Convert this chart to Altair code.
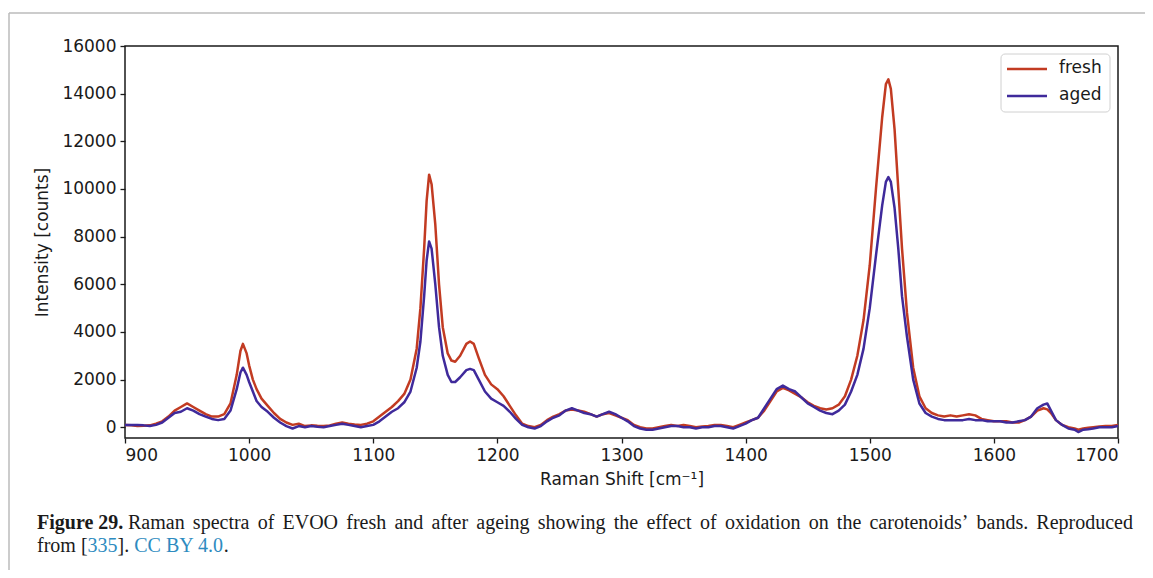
import altair as alt
import pandas as pd

# Raman shift (cm^-1)
shift = [900, 905, 910, 915, 920, 925, 930, 935, 940, 945, 950, 955, 960, 965, 970, 975, 980, 985, 990, 993,
         995, 998, 1000, 1003, 1006, 1010, 1015, 1020, 1025, 1030, 1035, 1040, 1045, 1050, 1055, 1060, 1065,
         1070, 1075, 1080, 1085, 1090, 1095, 1100, 1105, 1110, 1115, 1120, 1125, 1130, 1135, 1138, 1141, 1143,
         1145, 1147, 1150, 1153, 1156, 1160, 1163, 1166, 1170, 1175, 1178, 1181, 1185, 1190, 1195, 1200, 1205,
         1210, 1215, 1220, 1225, 1230, 1235, 1240, 1245, 1250, 1255, 1260, 1265, 1270, 1275, 1280, 1285, 1290,
         1295, 1300, 1305, 1310, 1315, 1320, 1325, 1330, 1335, 1340, 1345, 1350, 1355, 1360, 1365, 1370, 1375,
         1380, 1385, 1390, 1395, 1400, 1405, 1410, 1415, 1420, 1425, 1430, 1435, 1440, 1445, 1450, 1455, 1460,
         1465, 1470, 1475, 1480, 1485, 1490, 1495, 1500, 1505, 1510, 1513, 1515, 1517, 1520, 1523, 1526, 1530,
         1535, 1540, 1545, 1550, 1555, 1560, 1565, 1570, 1575, 1580, 1585, 1590, 1595, 1600, 1605, 1610, 1615,
         1620, 1625, 1630, 1635, 1640, 1643, 1646, 1650, 1655, 1660, 1665, 1668, 1672, 1676, 1680, 1685, 1690,
         1695, 1700]

fresh = [100, 80, 50, 60, 80, 150, 250, 450, 700, 850, 1000, 850, 700, 550, 450, 450, 550, 1000, 2200, 3200,
         3500, 3100, 2600, 2000, 1600, 1200, 900, 600, 350, 200, 100, 150, 50, 80, 60, 50, 80,
         150, 200, 150, 120, 100, 150, 250, 450, 650, 850, 1100, 1400, 2000, 3300, 5000, 7500, 9500,
         10600, 10200, 8500, 6000, 4200, 3100, 2800, 2750, 3000, 3500, 3600, 3500, 2900, 2200, 1800, 1600, 1300,
         900, 500, 150, 50, 0, 100, 300, 450, 550, 700, 750, 700, 650, 550, 450, 550, 600,
         500, 400, 300, 100, 0, -50, -50, 0, 50, 100, 50, 100, 50, 0, 30, 50, 100,
         100, 50, 0, 100, 200, 300, 400, 700, 1100, 1500, 1650, 1550, 1400, 1250, 1050, 900, 800,
         750, 800, 950, 1300, 2000, 3000, 4500, 6800, 10000, 13000, 14400, 14600, 14200, 12500, 10000, 7500, 4800,
         2500, 1300, 800, 600, 500, 450, 500, 450, 500, 550, 500, 350, 300, 250, 250, 250, 200,
         200, 300, 450, 700, 800, 750, 600, 300, 100, 0, -50, -100, -50, -20, 0, 30, 50,
         50, 100]

aged = [100, 100, 100, 80, 50, 100, 200, 400, 600, 650, 800, 700, 550, 450, 350, 300, 350, 700, 1600, 2300,
        2500, 2200, 1900, 1500, 1100, 850, 650, 400, 200, 50, -50, 50, 0, 50, 20, 0, 50,
        100, 150, 100, 50, 0, 50, 100, 250, 450, 650, 800, 1050, 1500, 2500, 3600, 5500, 7000,
        7800, 7500, 6000, 4200, 3000, 2200, 1900, 1900, 2100, 2400, 2450, 2400, 2000, 1500, 1200, 1050, 900,
        650, 350, 100, 0, -50, 50, 250, 400, 500, 700, 800, 700, 600, 550, 450, 550, 650,
        550, 400, 250, 50, -50, -100, -100, -50, 0, 50, 50, 0, 0, -50, 0, 0, 50,
        50, 0, -50, 50, 150, 300, 400, 800, 1200, 1600, 1750, 1600, 1500, 1250, 1000, 850, 700,
        600, 550, 700, 950, 1500, 2200, 3300, 5000, 7200, 9300, 10300, 10500, 10300, 9200, 7500, 5500, 3800,
        2000, 1000, 600, 450, 350, 300, 300, 300, 300, 350, 300, 300, 250, 250, 250, 200, 200,
        250, 300, 450, 800, 950, 1000, 700, 300, 100, -50, -100, -200, -100, -80, -50, 0, 0,
        0, 50]

series = ["fresh", "aged"]
series_colors = ["#c23b22", "#3f2a9b"]
x_ticks = [900, 1000, 1100, 1200, 1300, 1400, 1500, 1600, 1700]
y_ticks = [0, 2000, 4000, 6000, 8000, 10000, 12000, 14000, 16000]

caption_bold = "Figure 29."
caption_line1 = "Raman spectra of EVOO fresh and after ageing showing the effect of oxidation on the carotenoids’ bands. Reproduced"
caption_line2 = [("from [", "k"), ("335", "b"), ("].", "k"), (" ", "k"), ("CC BY 4.0", "b"), (".", "k")]

df = pd.concat([
    pd.DataFrame({"shift": shift, "intensity": fresh, "sample": "fresh", "o": 1}),
    pd.DataFrame({"shift": shift, "intensity": aged, "sample": "aged", "o": 0}),
])

W, H = 993, 392
FONT = "DejaVu Sans"
SERIF = "Liberation Serif"
CAP_SIZE = 20
INK = "#1a1a1a"
LINK = "#2e8bc0"

# Times-compatible advance widths (per 1000 em) for caption layout
TW = {" ": 250, "’": 333, ".": 250, "[": 333, "]": 333, "a": 444, "b": 500, "c": 444, "d": 500, "e": 444,
      "f": 333, "g": 500, "h": 500, "i": 278, "k": 500, "l": 278, "m": 778, "n": 500, "o": 500, "p": 500,
      "r": 333, "s": 389, "t": 278, "u": 500, "v": 500, "w": 722, "x": 500, "y": 500, "R": 667, "E": 611,
      "V": 722, "O": 722, "C": 667, "B": 667, "Y": 722}


def tw(s, size=CAP_SIZE):
    return sum(TW.get(ch, 500) for ch in s) * size / 1000.0


lines = alt.Chart(df).mark_line(strokeWidth=2.5, strokeJoin="round").encode(
    x=alt.X("shift:Q", scale=alt.Scale(domain=[900, 1700], nice=False, zero=False),
            axis=alt.Axis(values=x_ticks, format="d", title="Raman Shift [cm⁻¹]", titlePadding=8)),
    y=alt.Y("intensity:Q", scale=alt.Scale(domain=[-450, 16000], nice=False, zero=False),
            axis=alt.Axis(values=y_ticks, format="d", title="Intensity [counts]", titlePadding=10)),
    color=alt.Color("sample:N", scale=alt.Scale(domain=series, range=series_colors), legend=None),
    order=alt.Order("o:Q"),
    detail="sample:N",
)

one = pd.DataFrame({"k": [0]})


def txt(s, x, y, color=INK, weight="normal", size=CAP_SIZE, font=SERIF):
    return alt.Chart(one).mark_text(text=s, align="left", baseline="middle", font=font,
                                    fontSize=size, fontWeight=weight, color=color).encode(
        x=alt.value(x), y=alt.value(y))


# hand-placed legend box (matplotlib style)
legend_box = alt.Chart(one).mark_rect(fill="white", stroke="#d0d0d0", strokeWidth=1, cornerRadius=4).encode(
    x=alt.value(876), x2=alt.value(985), y=alt.value(8), y2=alt.value(66))
legend_layers = [legend_box]
for i, (name, col) in enumerate(zip(series, series_colors)):
    yy = 23 + 27 * i
    legend_layers.append(alt.Chart(one).mark_rule(color=col, strokeWidth=2.5).encode(
        x=alt.value(882), x2=alt.value(922), y=alt.value(yy)))
    legend_layers.append(txt(name, 934, yy - 1, size=17, font=FONT))

# caption, justified first line
cap = [txt(caption_bold, -88, 477, weight="bold")]
words = caption_line1.split(" ")
x_start, x_end = 3.0, 1008.0
gap = (x_end - x_start - sum(tw(w) for w in words)) / (len(words) - 1)
xc = x_start
for w in words:
    cap.append(txt(w, xc, 477))
    xc += tw(w) + gap
xc = -88.0
for seg, c in caption_line2:
    if seg.strip():
        cap.append(txt(seg, xc, 500, color=LINK if c == "b" else INK))
    xc += tw(seg)

frame_top = alt.Chart(one).mark_rule(color="#bbbbbb", strokeWidth=1.5).encode(
    x=alt.value(-116), x2=alt.value(1040), y=alt.value(-33))
frame_left = alt.Chart(one).mark_rule(color="#bbbbbb", strokeWidth=1.5).encode(
    x=alt.value(-116), y=alt.value(-33), y2=alt.value(540))

chart = alt.layer(frame_top, frame_left, lines, *legend_layers, *cap).properties(
    width=W, height=H,
    autosize=alt.AutoSizeParams(type="none"),
    padding={"left": 117, "top": 38, "right": 27, "bottom": 132},
    background="white",
).configure_view(stroke=INK, strokeWidth=1.5).configure_axis(
    labelFont=FONT, labelFontSize=17, labelColor=INK,
    titleFont=FONT, titleFontSize=17, titleColor=INK, titleFontWeight="normal",
    domain=False, grid=False, ticks=True, tickColor=INK, tickSize=5, tickWidth=1.3,
    labelPadding=4,
)

chart.save("out.html", embed_options={"renderer": "svg", "actions": False})
